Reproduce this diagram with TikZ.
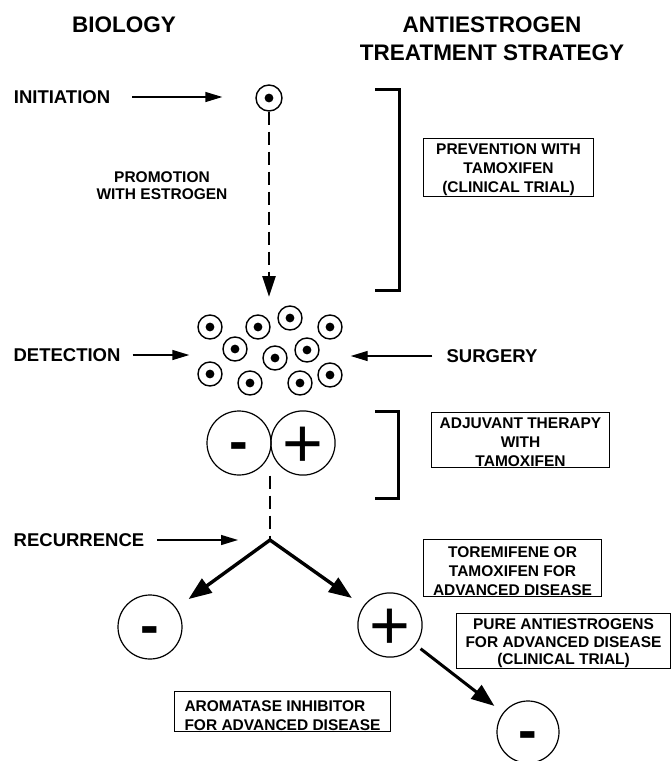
\documentclass[tikz,border=0pt]{standalone}
\usepackage{fontspec}
\setmainfont{Liberation Sans}
\usetikzlibrary{arrows.meta,positioning}
\newcommand{\hdfont}{\fontsize{22.5}{28}\selectfont\bfseries}
\newcommand{\lblfont}{\fontsize{18.5}{22}\selectfont\bfseries}
\newcommand{\bxfont}{\fontsize{15.5}{19}\selectfont\bfseries}

\begin{document}
\begin{tikzpicture}[x=1pt,y=-1pt,
  heading/.style={font=\hdfont,align=center,inner sep=0pt},
  stage/.style={font=\lblfont,inner sep=0pt},
  cellnode/.style={circle,draw,line width=1.4pt,minimum size=24pt,inner sep=0pt,
    path picture={\fill (path picture bounding box.center) circle (4.4pt);}},
  bigcell/.style={circle,draw,line width=1.2pt,minimum size=64pt,inner sep=0pt},
  minussign/.style={bigcell,font=\fontsize{56}{56}\selectfont\bfseries,text height=34.8pt,text depth=0pt},
  plussign/.style={bigcell,font=\fontsize{70}{70}\selectfont,text height=49.4pt,text depth=0pt},
  stratbox/.style={draw,line width=1.1pt,font=\bxfont,align=center,inner xsep=0pt,inner ysep=1pt,anchor=north west},
  thinarr/.style={-{Triangle[length=17pt,width=10pt]},line width=1.4pt},
  bigarr/.style={-{Triangle[length=23pt,width=17pt]},line width=3.4pt},
  bracket/.style={line width=3pt},
  dashline/.style={line width=2.6pt,dash pattern=on 13pt off 7pt}]
  \useasboundingbox (0,0) rectangle (672,761);
  % Headings
  \node[heading] (biology) at (124,25) {BIOLOGY};
  \node[heading] (strategy) at (492,39) {ANTIESTROGEN\\TREATMENT STRATEGY};
  % Initiation
  \node[stage] (initiation) at (62,97) {INITIATION};
  \node[cellnode,minimum size=26pt] (cell0) at (269,98) {};
  \draw[thinarr,shorten <=22pt,shorten >=33pt] (initiation.east) -- (initiation.east -| cell0.west);
  % Promotion
  \node[font=\fontsize{15.5}{17}\selectfont\bfseries,align=center,inner sep=0pt] (promotion) at (162,186) {PROMOTION\\WITH ESTROGEN};
  \coordinate (clustertop) at (269,297);
  \draw[dashline,-{Triangle[length=21pt,width=13pt]}] (cell0.south) -- (clustertop);
  % Prevention
  \draw[bracket] (375,89) -| (399,290) -- (375,290);
  \node[stratbox,minimum width=170pt] (prevention) at (423,138) {\rule{0pt}{15pt}PREVENTION WITH\\TAMOXIFEN\\(CLINICAL TRIAL)};
  % Detected tumour
  \foreach \px/\py [count=\i] in {210/327,258/327,290/318,330/327,235/349,275/358,307/350,210/374,250/383,300/383,330/375}
    \node[cellnode] (c\i) at (\px,\py) {};
  \node[stage] (detection) at (67,355) {DETECTION};
  \node[stage] (surgery) at (492,356) {SURGERY};
  \draw[thinarr,shorten <=12pt,shorten >=33pt] (detection.east) -- (detection.east -| c5.west);
  \draw[thinarr,shorten <=14pt,shorten >=8pt] (surgery.west) -- (surgery.west -| c4.east);
  % Adjuvant therapy
  \node[minussign] (minusA) at (239,443) {-};
  \node[plussign] (plusA) at (303,443) {+};
  \draw[bracket] (375,411) -| (398,498) -- (375,498);
  \node[stratbox,minimum width=178pt] (adjuvant) at (431,412) {\rule{0pt}{15pt}ADJUVANT THERAPY\\WITH\\TAMOXIFEN};
  % Recurrence
  \coordinate (fork) at (270,540);
  \draw[dashline] (fork |- minusA.south) -- (fork);
  \node[stage] (recurrence) at (79,540) {RECURRENCE};
  \draw[thinarr,shorten <=13pt,shorten >=32pt] (recurrence.east) -- (recurrence.east -| fork);
  \node[minussign] (minusB) at (150,627) {-};
  \node[plussign] (plusB) at (390,625) {+};
  \node[minussign,minimum size=62pt] (minusC) at (528,732) {-};
  \draw[bigarr,shorten >=15pt] (fork) -- (minusB);
  \draw[bigarr,shorten >=14pt] (fork) -- (plusB);
  \draw[bigarr,line width=3pt,shorten <=6pt,shorten >=11pt] (plusB) -- (minusC);
  % Treatment of advanced disease
  \node[stratbox,minimum width=178pt] (toremifene) at (423,539) {\rule{0pt}{17pt}TOREMIFENE OR\\TAMOXIFEN FOR\\ADVANCED DISEASE};
  \node[stratbox,minimum width=214pt,font=\fontsize{15.5}{17.5}\selectfont\bfseries] (pure) at (456,613) {\rule{0pt}{15pt}PURE ANTIESTROGENS\\FOR ADVANCED DISEASE\\(CLINICAL TRIAL)};
  \node[stratbox,align=left,minimum width=216pt,inner xsep=9pt,font=\fontsize{15.5}{19}\selectfont\bfseries] (aromatase) at (174,691) {\rule{0pt}{19pt}AROMATASE INHIBITOR\\FOR ADVANCED DISEASE};
\end{tikzpicture}
\end{document}
